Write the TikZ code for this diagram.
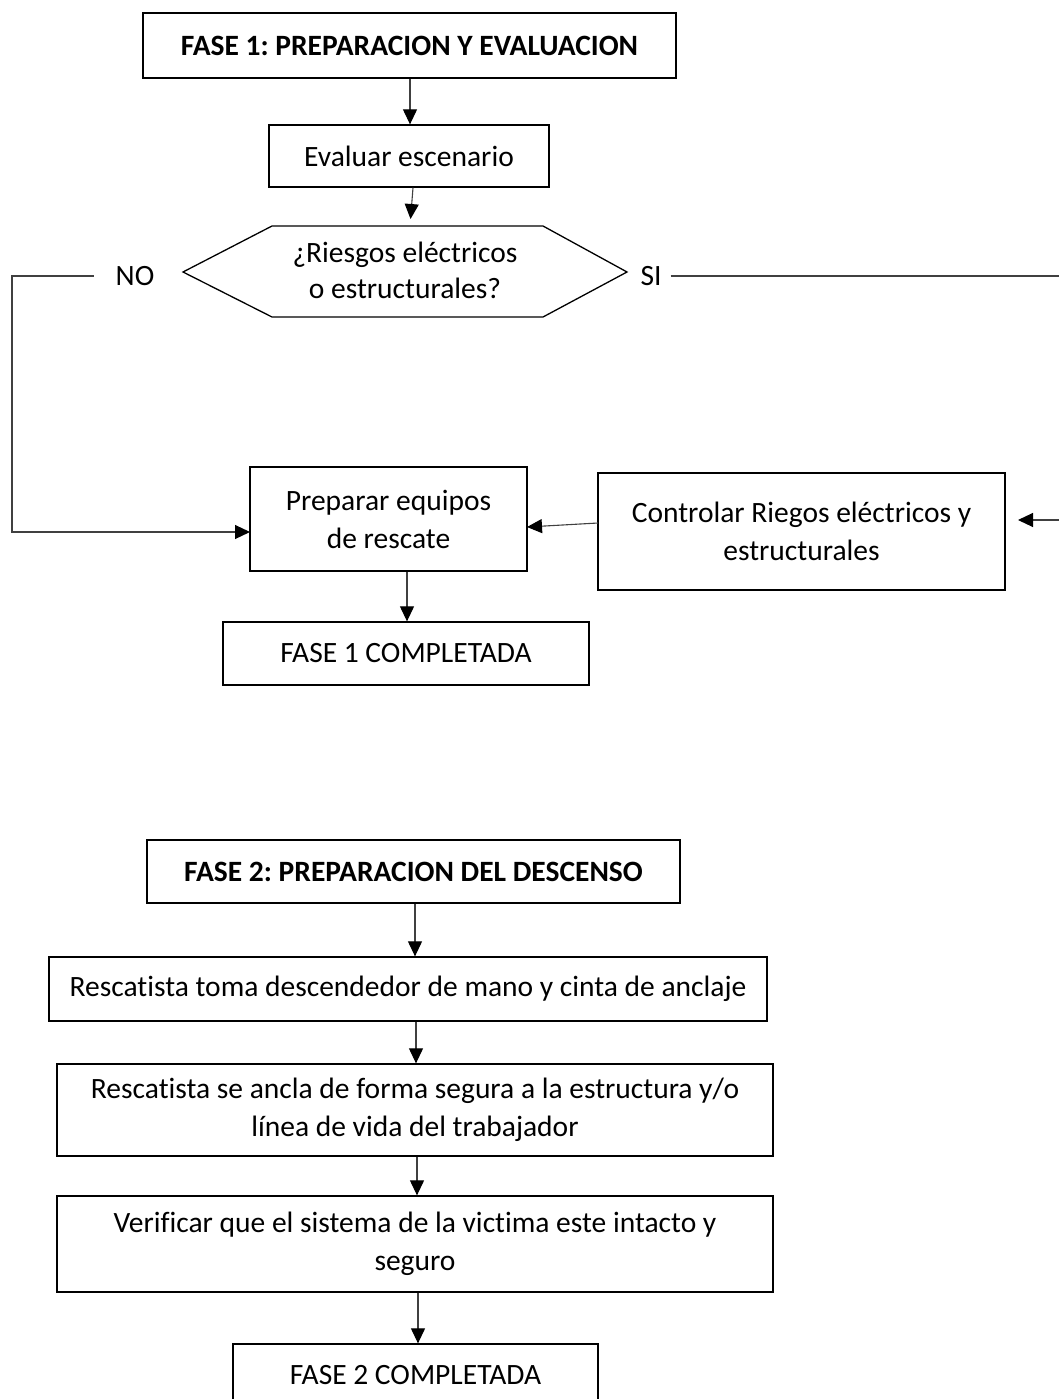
\documentclass[tikz,border=0pt]{standalone}
\usepackage{fontspec}
\setmainfont{Carlito}[Ligatures=NoCommon]
\usetikzlibrary{arrows.meta}
\frenchspacing
\begin{document}
\begin{tikzpicture}[x=1pt,y=-1pt,
  box/.style={draw=black, line width=1.3pt, align=center, inner sep=0pt, font=\fontsize{29.5}{38}\selectfont},
  lbl/.style={inner sep=0pt, align=center, font=\fontsize{29.5}{36}\selectfont},
  conn/.style={draw=black!75, line width=1.1pt},
  arr/.style={conn, -{Triangle[length=15pt,width=14pt,fill=black,color=black]}},
  hex/.style={draw=black, line width=1.3pt}]
\useasboundingbox (0,0) rectangle (1059,1399);
\clip (0,0) rectangle (1059,1399);
% Phase 1
\node[box, minimum width=533pt, minimum height=65pt] (f1) at (409.5,45.5) {\textbf{FASE 1: PREPARACION Y EVALUACION}};
\node[box, minimum width=280pt, minimum height=62pt] (eval) at (409,156) {Evaluar escenario};
\node[lbl] (q) at (405,270) {¿Riesgos eléctricos\\o estructurales?};
\coordinate (ql) at (183,272);
\coordinate (qtl) at (272,226);
\coordinate (qtr) at (543,226);
\coordinate (qr) at (627,272);
\coordinate (qbr) at (543,317);
\coordinate (qbl) at (272,317);
\coordinate (qt) at (410,226);
\draw[hex] (ql) -- (qtl) -- (qtr) -- (qr) -- (qbr) -- (qbl) -- cycle;
\node[lbl] (no) at (135,276) {NO};
\node[lbl] (si) at (651,276) {SI};
\node[box, minimum width=277pt, minimum height=104pt] (prep) at (388.5,519) {Preparar equipos\\de rescate};
\node[box, minimum width=407pt, minimum height=117pt] (ctrl) at (801.5,531.5) {Controlar Riegos eléctricos y\\estructurales};
\node[box, minimum width=366pt, minimum height=63pt] (f1c) at (406,653.5) {FASE 1 COMPLETADA};
\coordinate (nocorner1) at (12,276);
\coordinate (nocorner2) at (12,532);
\coordinate (prepin) at (250,532);
\coordinate (siend) at (1059,276);
\coordinate (rin) at (1059,520);
\coordinate (rtip) at (1018,520);
\coordinate (ctrlout) at (598,523);
\coordinate (prepin2) at (527,527);
\draw[arr] (f1.south -| 410,0) -- (eval.north -| 410,0);
\draw[arr, shorten >=7pt] (eval.south -| 413,0) -- (qt);
\draw[arr] ([xshift=-22pt]no.west) -- (nocorner1) -- (nocorner2) -- (prepin);
\draw[conn] ([xshift=9pt]si.east) -- (siend);
\draw[arr] (rin) -- (rtip);
\draw[arr] (ctrlout) -- (prepin2);
\draw[arr] (prep.south -| 407,0) -- (f1c.north -| 407,0);
% Phase 2
\node[box, minimum width=533pt, minimum height=63pt] (f2) at (413.5,871.5) {\textbf{FASE 2: PREPARACION DEL DESCENSO}};
\node[box, minimum width=718pt, minimum height=64pt] (toma) at (408,989) {Rescatista toma descendedor de mano y cinta de anclaje};
\node[box, minimum width=716pt, minimum height=92pt] (ancla) at (415,1110) {Rescatista se ancla de forma segura a la estructura y/o\\línea de vida del trabajador};
\node[box, minimum width=716pt, minimum height=96pt] (verif) at (415,1244) {Verificar que el sistema de la victima este intacto y\\seguro};
\node[box, minimum width=365pt, minimum height=63pt] (f2c) at (415.5,1375.5) {FASE 2 COMPLETADA};
\draw[arr] (f2.south -| 415,0) -- (toma.north -| 415,0);
\draw[arr] (toma.south -| 416,0) -- (ancla.north -| 416,0);
\draw[arr] (ancla.south -| 417,0) -- (verif.north -| 417,0);
\draw[arr] (verif.south -| 418,0) -- (f2c.north -| 418,0);
\end{tikzpicture}
\end{document}
